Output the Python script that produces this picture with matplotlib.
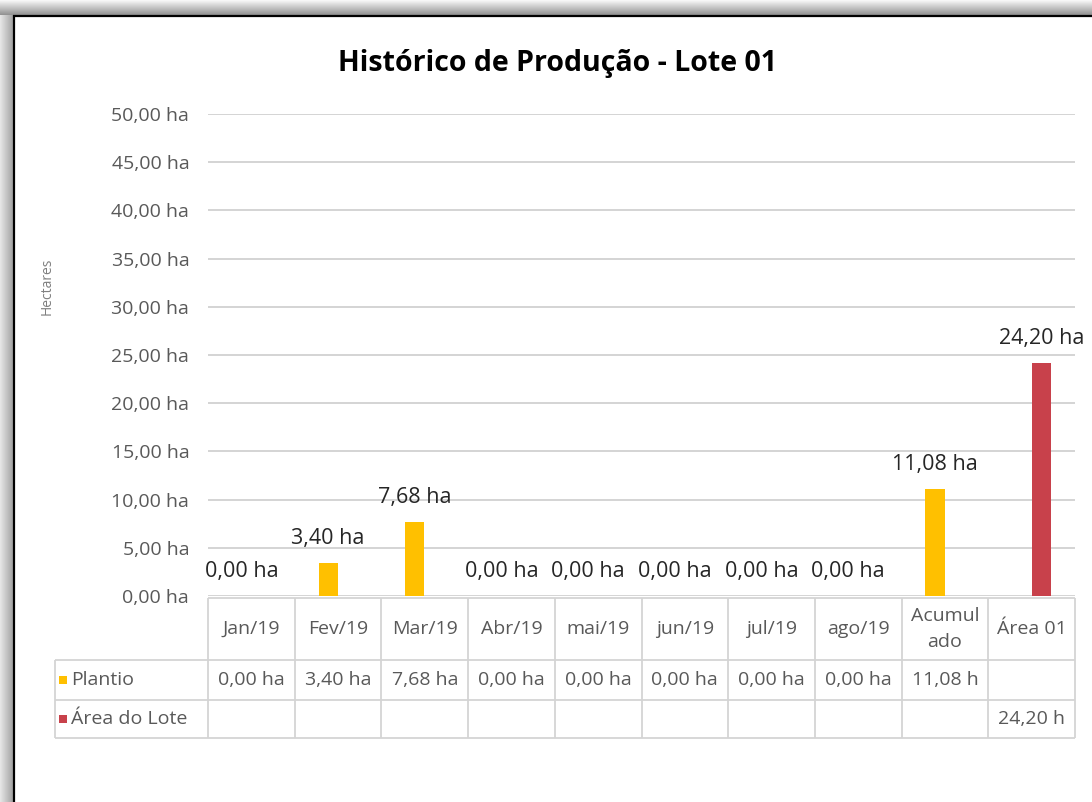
import numpy as np
import matplotlib
matplotlib.use("Agg")
import matplotlib.pyplot as plt
import matplotlib.transforms as mtransforms
from matplotlib.patches import Rectangle

# ---- data ----
categories = ["Jan/19", "Fev/19", "Mar/19", "Abr/19", "mai/19", "jun/19",
              "jul/19", "ago/19", "Acumulado", "Área 01"]
header_labels = ["Jan/19", "Fev/19", "Mar/19", "Abr/19", "mai/19", "jun/19",
                 "jul/19", "ago/19", "Acumul\nado", "Área 01"]
plantio = [0.00, 3.40, 7.68, 0.00, 0.00, 0.00, 0.00, 0.00, 11.08, np.nan]
area_lote = [np.nan] * 9 + [24.20]
series_names = ["Plantio", "Área do Lote"]
y_ticks = [0, 5, 10, 15, 20, 25, 30, 35, 40, 45, 50]

title = "Histórico de Produção - Lote 01"
y_label = "Hectares"

COL_PLANTIO = "#FFC000"
COL_AREA = "#C8414B"
TXT_GRAY = "#595959"
LINE_GRAY = "#D4D4D4"


def fmt_ha(v):
    return f"{v:.2f}".replace(".", ",") + " ha"


plt.rcParams["font.family"] = ["Open Sans", "DejaVu Sans"]

W, H = 1092, 802
fig = plt.figure(figsize=(W / 100, H / 100), dpi=100)
fig.patch.set_facecolor("white")

# background layer in pixel coordinates (frame, shadow, table)
bg = fig.add_axes([0, 0, 1, 1], zorder=-5)
bg.axis("off")

top_band = np.linspace(0.97, 0.58, 15)[:, None] * np.ones((1, 50))
bg.imshow(top_band, cmap="gray", vmin=0, vmax=1, extent=(0, W, 15, 0),
          aspect="auto", interpolation="bilinear")
left_band = np.linspace(0.9, 0.65, 13)[None, :] * np.ones((50, 1))
bg.imshow(left_band, cmap="gray", vmin=0, vmax=1, extent=(0, 13, H, 15),
          aspect="auto", interpolation="bilinear")
bg.set_xlim(0, W)
bg.set_ylim(H, 0)
bg.plot([13, W], [15.5, 15.5], color="black", lw=1.6, solid_capstyle="butt")
bg.plot([13.5, 13.5], [15, H], color="black", lw=1.6, solid_capstyle="butt")

# ---- chart ----
ax = fig.add_axes([208 / W, 1 - 596 / H, (1075 - 208) / W, (596 - 114) / H])
ax.set_facecolor("none")
x = np.arange(len(categories))
bar_w = 0.22
off = 0.115
ax.bar(x - off, plantio, width=bar_w, color=COL_PLANTIO, zorder=3)
ax.bar(x + off, area_lote, width=bar_w, color=COL_AREA, zorder=3)

ax.set_xlim(-0.5, len(categories) - 0.5)
ax.set_ylim(0, 50)
ax.set_yticks(y_ticks)
ax.set_yticklabels([fmt_ha(v) for v in y_ticks])
ax.set_xticks([])
ax.tick_params(axis="y", length=0, pad=13.5, labelsize=14, labelcolor=TXT_GRAY)
ax.yaxis.grid(True, color=LINE_GRAY, lw=1.4)
ax.set_axisbelow(True)
for s in ax.spines.values():
    s.set_visible(False)

label_off = 17.5  # points above bar top
for xi, v in zip(x, plantio):
    if not np.isnan(v):
        ax.annotate(fmt_ha(v), (xi - off, v), xytext=(0, label_off),
                    textcoords="offset points", ha="center", va="center",
                    fontsize=15.5, color="#262626", zorder=4)
for xi, v in zip(x, area_lote):
    if not np.isnan(v):
        ax.annotate(fmt_ha(v), (xi + off, v), xytext=(0, label_off),
                    textcoords="offset points", ha="center", va="center",
                    fontsize=15.5, color="#262626", zorder=4)

fig.text(557 / W, 1 - 64 / H, title, ha="center", va="center",
         fontsize=20.5, fontweight="bold", color="black")
fig.text(47 / W, 1 - 286 / H, y_label, rotation=90, ha="center", va="center",
         fontsize=10, color="#7F7F7F")

# ---- data table below the axis ----
tr = mtransforms.blended_transform_factory(ax.transData, bg.transData)
edges = np.arange(len(categories) + 1) - 0.5
y_head_top, y_row1, y_row2, y_bottom = 598, 660, 700, 738
leg_left = 55
lkw = dict(color=LINE_GRAY, lw=1.3, solid_capstyle="butt")

for e in edges:
    bg.plot([e, e], [y_head_top, y_bottom], transform=tr, **lkw)
bg.plot([edges[0], edges[-1]], [y_head_top, y_head_top], transform=tr, **lkw)
for yy in (y_row1, y_row2, y_bottom):
    bg.plot([edges[0], edges[-1]], [yy, yy], transform=tr, **lkw)
    bg.plot([leg_left, 208], [yy, yy], **lkw)
bg.plot([leg_left, leg_left], [y_row1, y_bottom], **lkw)

for xi, lab in zip(x, header_labels):
    bg.text(xi, (y_head_top + y_row1) / 2, lab, transform=tr, ha="center",
            va="center", fontsize=14, color=TXT_GRAY, linespacing=1.55)

fig.canvas.draw()
renderer = fig.canvas.get_renderer()
pad_px = 6
for row_y, vals in (((y_row1 + y_row2) / 2, plantio), ((y_row2 + y_bottom) / 2, area_lote)):
    for xi, v in zip(x, vals):
        if np.isnan(v):
            continue
        s = fmt_ha(v)
        t = bg.text(xi, row_y, s, transform=tr, ha="center",
                    va="center", fontsize=14, color=TXT_GRAY)
        cell_px = ax.transData.transform([(xi - 0.5, 0), (xi + 0.5, 0)])
        avail = cell_px[1, 0] - cell_px[0, 0] - 2 * pad_px
        # a cell shows only the characters that fit in its width
        while t.get_window_extent(renderer).width > avail and len(s) > 1:
            s = s[:-1].rstrip()
            t.set_text(s)

# legend keys inside the table
for row_y, name, col in (((y_row1 + y_row2) / 2, series_names[0], COL_PLANTIO),
                         ((y_row2 + y_bottom) / 2, series_names[1], COL_AREA)):
    bg.add_patch(Rectangle((59, row_y - 4), 8, 8, facecolor=col, edgecolor="none"))
    bg.text(71, row_y, name, ha="left", va="center", fontsize=14, color=TXT_GRAY)

fig.savefig("out.png", dpi=100, facecolor="white")
